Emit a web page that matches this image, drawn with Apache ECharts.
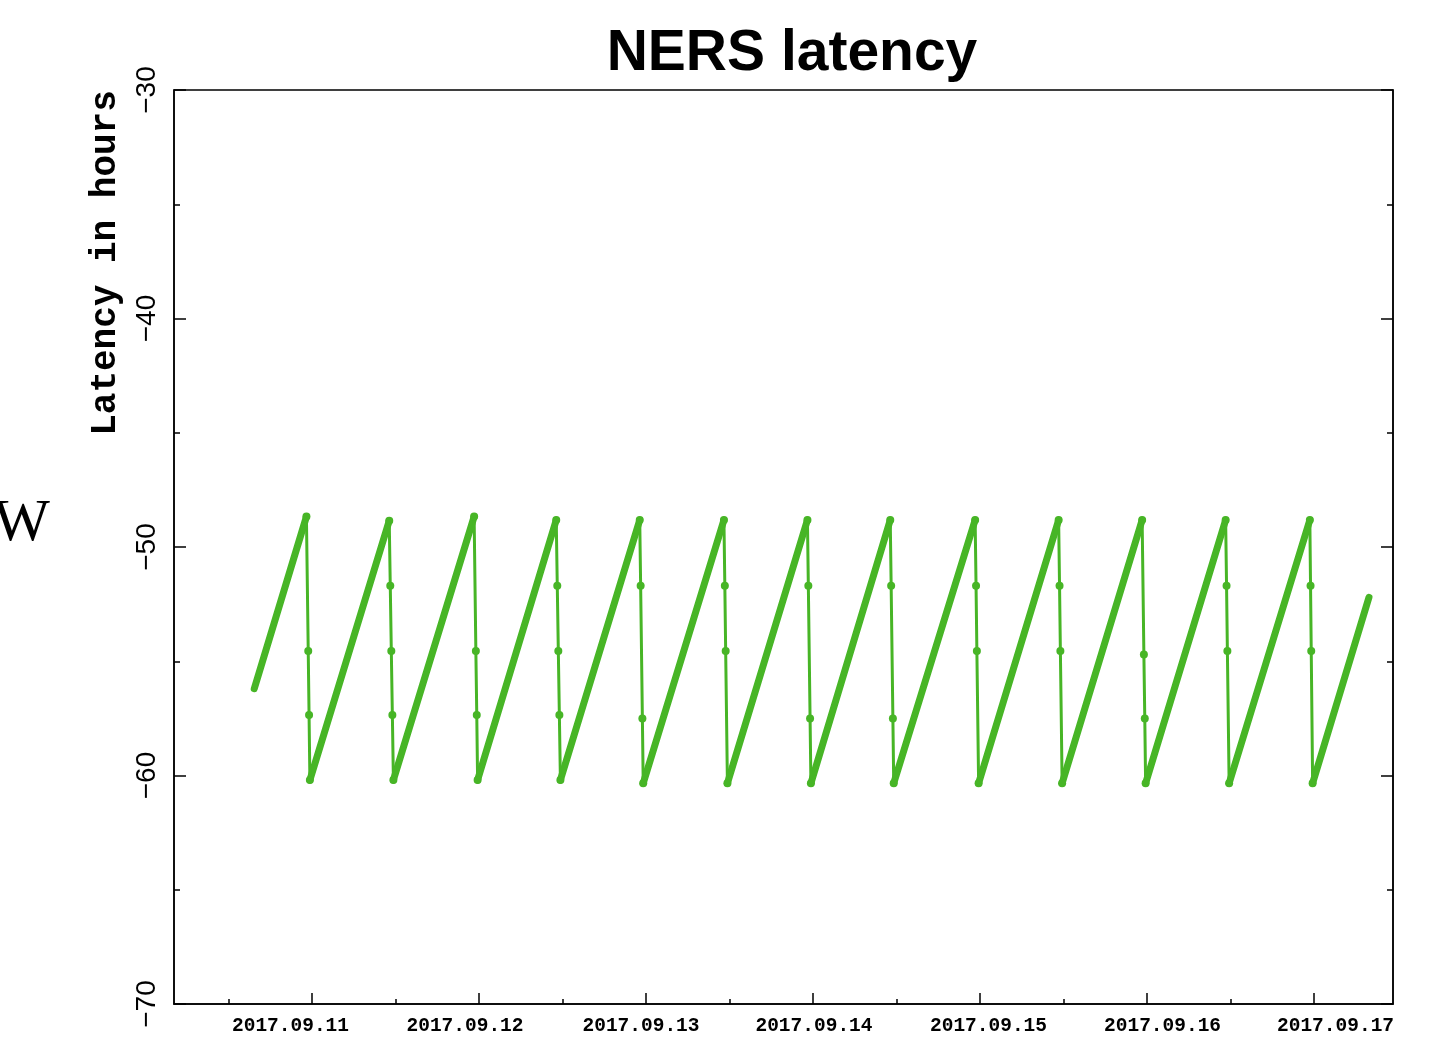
<!DOCTYPE html>
<html>
<head>
<meta charset="utf-8">
<script src="https://cdn.jsdelivr.net/npm/echarts@6.0.0/dist/echarts.min.js"></script>
<style>
  html, body { margin: 0; padding: 0; background: #fff; }
  #chart { width: 1447px; height: 1039px; }
</style>
</head>
<body>
<div id="chart"></div>
<script>
// time in hours since 2017.09.11 00:00, latency in hours
const dayTicks = [0, 24, 48, 72, 96, 120, 144];
const halfDayTicks = [-12, 12, 36, 60, 84, 108, 132];
// the date labels sit a little apart from their ticks in the original
const labelPos = [-3.09, 21.99, 47.28, 72.14, 97.22, 122.23, 147.09];
const dayLabels = ['2017.09.11', '2017.09.12', '2017.09.13', '2017.09.14', '2017.09.15', '2017.09.16', '2017.09.17'];

const firstPoint = [-8.3, -56.2];
const lastPoint = [151.9, -52.2];

const peakTime = [-0.8, 11.1, 23.3, 35.1, 47.1, 59.2, 71.2, 83.1, 95.3, 107.3, 119.3, 131.3, 143.4];
const peakLatency = [-48.67, -48.85, -48.67, -48.82, -48.82, -48.82, -48.82, -48.82, -48.82, -48.82, -48.82, -48.82, -48.82];
const bottomTime = [-0.3, 11.7, 23.8, 35.7, 47.6, 59.7, 71.7, 83.6, 95.8, 107.8, 119.8, 131.8, 143.8];
const bottomLatency = [-60.2, -60.2, -60.2, -60.2, -60.34, -60.34, -60.34, -60.34, -60.34, -60.34, -60.34, -60.34, -60.34];

const dropTime = [
  [-0.54, -0.42], [11.25, 11.4, 11.55], [23.55, 23.68], [35.25, 35.4, 35.55],
  [47.23, 47.48], [59.33, 59.45], [71.33, 71.58], [83.23, 83.48],
  [95.43, 95.55], [107.43, 107.55], [119.55, 119.68], [131.43, 131.55], [143.5, 143.6]
];
const dropLatency = [
  [-54.55, -57.35], [-51.7, -54.55, -57.35], [-54.55, -57.35], [-51.7, -54.55, -57.35],
  [-51.7, -57.5], [-51.7, -54.55], [-51.7, -57.5], [-51.7, -57.5],
  [-51.7, -54.55], [-51.7, -54.55], [-54.7, -57.5], [-51.7, -54.55], [-51.7, -54.55]
];

const green = '#47b526';

// slow climbing parts, broken at every drop
const riseData = [firstPoint];
for (let i = 0; i < peakTime.length; i++) {
  riseData.push([peakTime[i], peakLatency[i]]);
  riseData.push('-');
  riseData.push([bottomTime[i], bottomLatency[i]]);
}
riseData.push(lastPoint);

// fast drops with their few samples
const dropData = [];
for (let i = 0; i < peakTime.length; i++) {
  dropData.push([peakTime[i], peakLatency[i]]);
  for (let j = 0; j < dropTime[i].length; j++) {
    dropData.push([dropTime[i][j], dropLatency[i][j]]);
  }
  dropData.push([bottomTime[i], bottomLatency[i]]);
  dropData.push('-');
}

const xMin = -19.83;
const xMax = 155.35;
const gridPos = { left: 174, right: 54, top: 90, bottom: 35 };
const black = { color: '#000', width: 1.5 };

const chart = echarts.init(document.getElementById('chart'));
chart.setOption({
  animation: false,
  title: {
    text: 'NERS latency',
    left: 792,
    top: 26,
    padding: 0,
    textAlign: 'center',
    textStyle: { fontFamily: 'Liberation Sans', fontWeight: 'bold', fontSize: 57, color: '#000' }
  },
  graphic: [
    {
      type: 'text',
      x: 106,
      y: 263,
      rotation: Math.PI / 2,
      style: {
        text: 'Latency in hours',
        font: 'bold 36px "Liberation Mono"',
        fill: '#000',
        align: 'center',
        verticalAlign: 'middle'
      }
    },
    {
      type: 'text',
      x: 50,
      y: 524,
      style: {
        text: 'W',
        font: '60px "Liberation Serif"',
        fill: '#000',
        align: 'right',
        verticalAlign: 'middle'
      }
    }
  ],
  grid: [
    Object.assign({ show: true, borderColor: '#000', borderWidth: 1.5 }, gridPos),
    Object.assign({}, gridPos)
  ],
  xAxis: [
    {
      type: 'value',
      gridIndex: 0,
      min: xMin,
      max: xMax,
      position: 'bottom',
      splitLine: { show: false },
      axisLine: { onZero: false, lineStyle: black },
      axisTick: { inside: true, length: 11, lineStyle: black, customValues: dayTicks },
      axisLabel: { show: false }
    },
    {
      type: 'value',
      gridIndex: 1,
      min: xMin,
      max: xMax,
      position: 'bottom',
      splitLine: { show: false },
      axisLine: { show: false, onZero: false },
      axisTick: { inside: true, length: 5, lineStyle: black, customValues: halfDayTicks },
      axisLabel: {
        customValues: labelPos,
        margin: 12,
        color: '#000',
        fontFamily: 'Liberation Mono',
        fontWeight: 'bold',
        fontSize: 19.5,
        formatter: v => dayLabels[labelPos.indexOf(v)] || ''
      }
    }
  ],
  yAxis: [
    {
      type: 'value',
      gridIndex: 0,
      min: -70,
      max: -30,
      interval: 10,
      position: 'left',
      splitLine: { show: false },
      axisLine: { onZero: false, lineStyle: black },
      axisTick: { inside: true, length: 12, lineStyle: black },
      minorTick: { show: true, splitNumber: 2, length: 6, lineStyle: black },
      axisLabel: {
        rotate: 90,
        margin: 13,
        color: '#000',
        fontFamily: 'Liberation Sans',
        fontSize: 28,
        formatter: v => String(v).replace('-', '\u2212')
      }
    },
    {
      type: 'value',
      gridIndex: 0,
      min: -70,
      max: -30,
      interval: 10,
      position: 'right',
      splitLine: { show: false },
      axisLine: { onZero: false, lineStyle: black },
      axisTick: { inside: true, length: 12, lineStyle: black },
      minorTick: { show: true, splitNumber: 2, length: 6, lineStyle: black },
      axisLabel: { show: false }
    },
    {
      type: 'value',
      gridIndex: 1,
      min: -70,
      max: -30,
      show: false,
      axisLine: { onZero: false }
    }
  ],
  series: [
    {
      name: 'rise',
      type: 'line',
      xAxisIndex: 0,
      yAxisIndex: 0,
      data: riseData,
      connectNulls: false,
      showSymbol: false,
      symbol: 'none',
      lineStyle: { color: green, width: 7, cap: 'round', join: 'round' }
    },
    {
      name: 'drop',
      type: 'line',
      xAxisIndex: 0,
      yAxisIndex: 0,
      data: dropData,
      connectNulls: false,
      symbol: 'circle',
      symbolSize: 8,
      showSymbol: true,
      itemStyle: { color: green },
      lineStyle: { color: green, width: 3 }
    }
  ]
});
</script>
</body>
</html>
